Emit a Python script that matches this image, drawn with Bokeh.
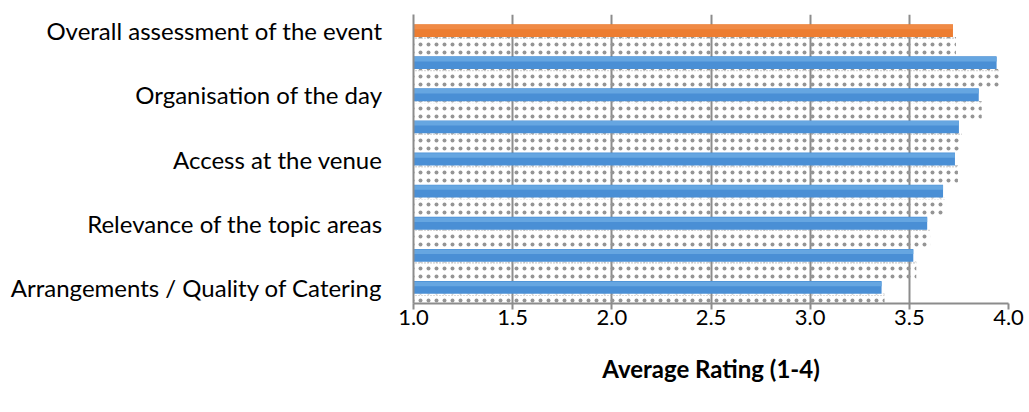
from bokeh.plotting import figure
from bokeh.models import FixedTicker, Range1d, ColumnDataSource
from bokeh.embed import file_html
from bokeh.resources import INLINE

# Data (top to bottom as drawn)
ratings = [3.72, 3.94, 3.85, 3.75, 3.73, 3.67, 3.59, 3.52, 3.36]
bar_colors = ["#ED7D31"] + ["#4A8FD5"] * 8
band_colors = ["#F08A45"] + ["#66A6E1"] * 8
tick_labels = ["Overall assessment of the event", "Organisation of the day",
               "Access at the venue", "Relevance of the topic areas",
               "Arrangements / Quality of Catering"]
label_rows = [0, 2, 4, 6, 8]
x_ticks = [1.0, 1.5, 2.0, 2.5, 3.0, 3.5, 4.0]

n = len(ratings)
ypos = [n - 1 - i for i in range(n)]

FONT = "Lato"

p = figure(width=1029, height=412, output_backend="svg", toolbar_location=None,
           x_range=Range1d(1.0, 4.0), y_range=Range1d(-0.5, n - 0.5),
           min_border_left=413, min_border_right=21, min_border_top=14,
           min_border_bottom=109)
p.outline_line_color = None
p.background_fill_color = "white"
p.border_fill_color = "white"

src = ColumnDataSource(dict(
    y=ypos, r=ratings, c=bar_colors, bc=band_colors,
    sr=[v + 0.015 for v in ratings],
    sy=[y - 0.5 for y in ypos],
    dy=[y - 0.235 for y in ypos],
    by=[y + 0.11 for y in ypos],
))

# dotted shadow below each bar
p.hbar(y="sy", height=0.6, left=1.0, right="sr", source=src,
       fill_alpha=0, line_color=None, hatch_pattern="dot",
       hatch_color="#959595", hatch_scale=8, hatch_weight=0.3)
p.hbar(y="dy", height=0.06, left=1.0, right="sr", source=src,
       fill_alpha=0, line_color=None, hatch_pattern="dot",
       hatch_color="#A0A0A0", hatch_scale=3, hatch_weight=0.3)

# bars
p.hbar(y="y", height=0.4, left=1.0, right="r", source=src,
       fill_color="c", line_color=None)
p.hbar(y="by", height=0.14, left=1.0, right="r", source=src,
       fill_color="bc", line_color=None)

# x axis
p.xaxis.ticker = FixedTicker(ticks=x_ticks)
p.xaxis.major_label_overrides = {t: f"{t:.1f}" for t in x_ticks}
p.xaxis.axis_line_color = "#8C8C8C"
p.xaxis.axis_line_width = 2
p.xaxis.major_tick_line_color = "#8C8C8C"
p.xaxis.major_tick_line_width = 2
p.xaxis.major_tick_out = 6
p.xaxis.major_tick_in = 0
p.xaxis.minor_tick_line_color = None
p.xaxis.major_label_text_font = FONT
p.xaxis.major_label_text_font_size = "22px"
p.xaxis.major_label_text_color = "#000000"
p.xaxis.major_label_standoff = 0
p.xaxis.axis_label = "Average Rating (1-4)"
p.xaxis.axis_label_text_font = FONT
p.xaxis.axis_label_text_font_style = "bold"
p.xaxis.axis_label_text_font_size = "24px"
p.xaxis.axis_label_text_color = "#000000"
p.xaxis.axis_label_standoff = 26

# y axis
p.yaxis.ticker = FixedTicker(ticks=[ypos[i] for i in label_rows])
p.yaxis.major_label_overrides = {ypos[i]: lab for i, lab in zip(label_rows, tick_labels)}
p.yaxis.axis_line_color = "#8C8C8C"
p.yaxis.axis_line_width = 2
p.yaxis.major_tick_line_color = None
p.yaxis.minor_tick_line_color = None
p.yaxis.major_label_text_font = FONT
p.yaxis.major_label_text_font_size = "24px"
p.yaxis.major_label_text_color = "#000000"
p.yaxis.major_label_standoff = 25

p.xgrid.ticker = FixedTicker(ticks=x_ticks)
p.xgrid.grid_line_color = "#8C8C8C"
p.xgrid.grid_line_width = 2
p.ygrid.grid_line_color = None

open("out.html", "w").write(file_html(p, INLINE))
